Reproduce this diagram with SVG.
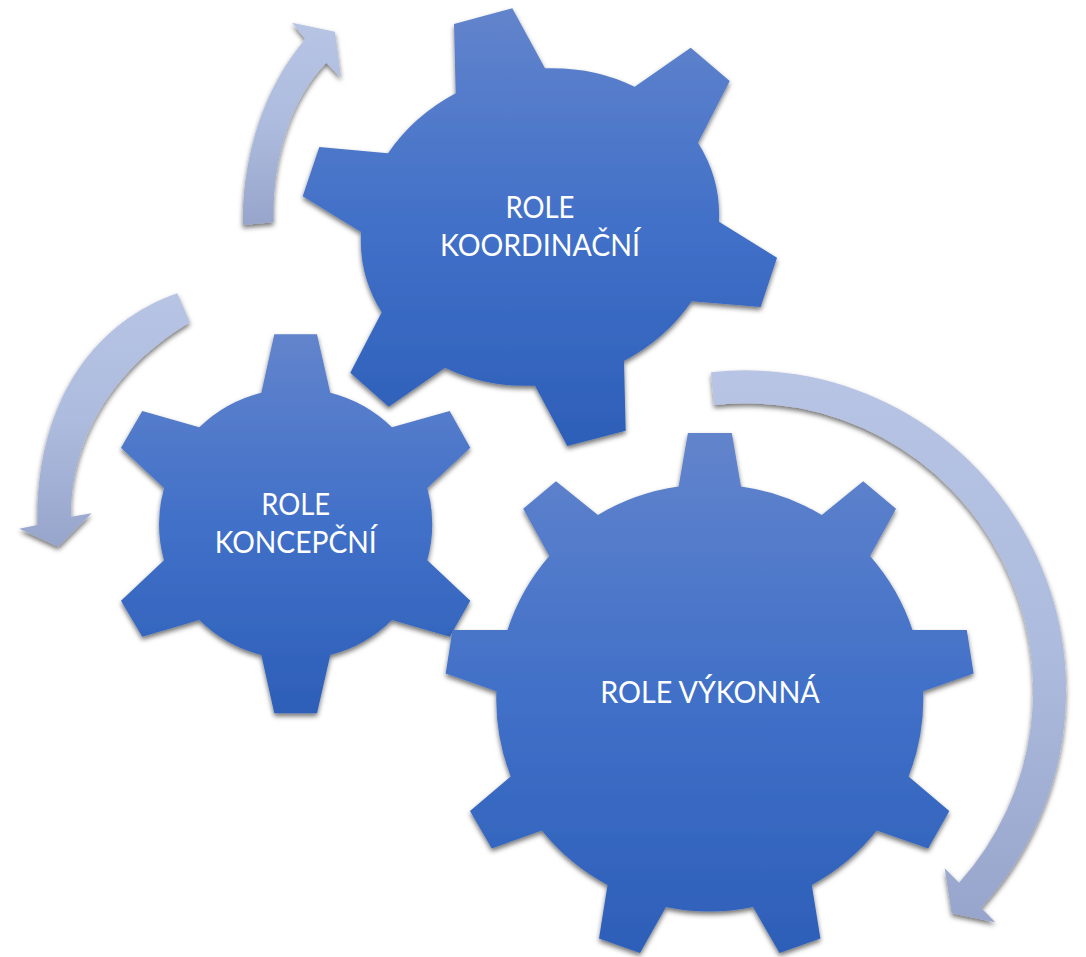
<svg xmlns="http://www.w3.org/2000/svg" width="1086" height="957" viewBox="0 0 1086 957">
  <style>
    .gear { fill: url(#gearFill); filter: url(#shadow); }
    .arrow { fill: url(#arrowFill); filter: url(#shadow); }
    .label { font-family: "Lato", "Liberation Sans", sans-serif; font-size: 30px; fill: #ffffff; text-anchor: middle; }
  </style>
  <defs>
    <linearGradient id="gearFill" x1="0" y1="0" x2="0" y2="1">
      <stop offset="0" stop-color="#6284cc"/>
      <stop offset="0.5" stop-color="#4170c8"/>
      <stop offset="1" stop-color="#2d5fb8"/>
    </linearGradient>
    <linearGradient id="arrowFill" x1="0" y1="0" x2="0" y2="1">
      <stop offset="0" stop-color="#b7c4e4"/>
      <stop offset="0.5" stop-color="#adbbde"/>
      <stop offset="1" stop-color="#97a5cc"/>
    </linearGradient>
    <filter id="shadow" x="-10%" y="-10%" width="120%" height="120%">
      <feDropShadow dx="0" dy="3" stdDeviation="2.5" flood-color="#000000" flood-opacity="0.55"/>
    </filter>
  </defs>
  <rect width="1086" height="957" fill="#ffffff"/>
  <g id="connectors">
    <path class="arrow" d="M242.7 225 C242 160 262 90 305.3 39 L292 22.7 L335 31.7 L341 77.7 L326.3 62.7 C290 100 272 160 273.7 222.3 Z"/>
    <path class="arrow" d="M177.3 293.3 C95 322 36 400 37.3 525 L19.3 528.7 L58.3 546.7 L91.7 513.3 L71.3 516.7 C70 435 118 365 190 322.3 Z"/>
    <path class="arrow" d="M711 372.3 A320 320 0 0 1 981 907.7 L995.3 922.3 L951.7 913.3 L944.7 868.3 L959 882.7 A287 287 0 0 0 714 405 Z"/>
  </g>
  <g id="gear-koordinacni">
    <path class="gear" d="M454 24 L512.3 8.3 L545 68.3 A181 156 -15 0 1 634.7 86.7 L690.7 47.7 L729.7 81 L698 142.7 A181 156 -15 0 1 719 221.7 L777 257.7 L760.7 307 L691.7 301.3 A181 156 -15 0 1 624 361 L625.7 430.7 L567.3 446 L535 385.7 A181 156 -15 0 1 445 367.7 L388.7 406.7 L350.3 372.7 L381.7 312.3 A181 156 -15 0 1 361 232 L302.7 196.3 L319.3 147 L388 153.3 A181 156 -15 0 1 455.7 93.3 Z"/>
    <text class="label" x="540" y="218.3" textLength="69" lengthAdjust="spacingAndGlyphs">ROLE</text>
    <text class="label" x="540" y="255.7" textLength="200" lengthAdjust="spacingAndGlyphs">KOORDINAČNÍ</text>
  </g>
  <g id="gear-koncepcni">
    <path class="gear" d="M274.3 334.3 L317 334.3 L330.3 392.7 A136 136 0 0 1 392 427.3 L449.7 411 L470.3 447.7 L427.3 488 A136 136 0 0 1 427.3 560.3 L470.3 600.7 L449.7 636.7 L392 620 A136 136 0 0 1 330.3 655 L317 713.3 L274.3 713.3 L261.3 655 A136 136 0 0 1 199.3 620 L142.3 636.7 L121 600.7 L164 560.3 A136 136 0 0 1 164 488 L121 447.7 L142.3 411 L199.3 427.3 A136 136 0 0 1 261.3 392.7 Z"/>
    <text class="label" x="295.7" y="515" textLength="69" lengthAdjust="spacingAndGlyphs">ROLE</text>
    <text class="label" x="295.7" y="552.7" textLength="162" lengthAdjust="spacingAndGlyphs">KONCEPČNÍ</text>
  </g>
  <g id="gear-vykonna">
    <path class="gear" d="M687.9 433 L731.8 433 L741 486.4 A214 214 0 0 1 821.8 514.9 L863.2 481.3 L896 508.7 L870 556 A214 214 0 0 1 912.5 629.9 L966.8 629.9 L973.6 673.4 L923.2 691.2 A214 214 0 0 1 908.6 776.5 L949.3 811 L928.2 848.4 L876.8 830.6 A214 214 0 0 1 811.8 885 L820.4 938.5 L779.5 953 L753 907 A214 214 0 0 1 666 907 L640 953 L599 938.5 L607.5 885 A214 214 0 0 1 541.8 830.6 L491.8 848.4 L470 811 L510.7 776.5 A214 214 0 0 1 496.4 691.2 L445.7 673.4 L452.5 629.9 L507.5 629.9 A214 214 0 0 1 549.3 556 L523.2 508.7 L556 481.3 L597.9 514.9 A214 214 0 0 1 678.6 486.4 Z"/>
    <text class="label" x="710" y="702.5" textLength="219.5" lengthAdjust="spacingAndGlyphs">ROLE VÝKONNÁ</text>
  </g>
</svg>
